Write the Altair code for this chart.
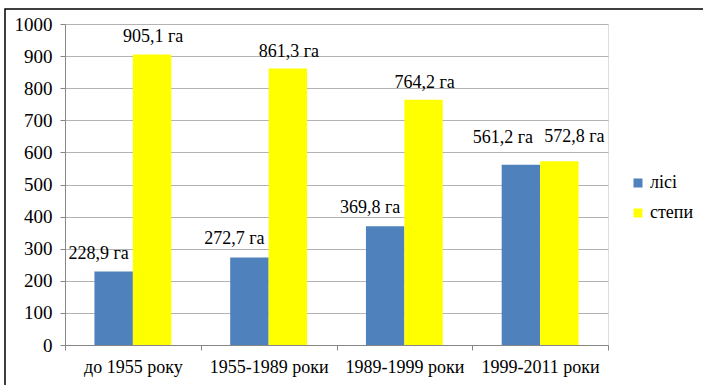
import altair as alt
import pandas as pd

periods = ["до 1955 року", "1955-1989 роки", "1989-1999 роки", "1999-2011 роки"]
series = ["лісі", "степи"]
lisy = [228.9, 272.7, 369.8, 561.2]
stepy = [905.1, 861.3, 764.2, 572.8]
y_ticks = [0, 100, 200, 300, 400, 500, 600, 700, 800, 900, 1000]

rows = []
for i, p in enumerate(periods):
    for s, vals in zip(series, [lisy, stepy]):
        v = vals[i]
        rows.append({"period": p, "series": s, "value": v, "idx": i,
                     "label": f"{v:.1f}".replace(".", ",") + " га"})
df = pd.DataFrame(rows)

FONT = "'Times New Roman', 'Liberation Serif', serif"

x_enc = alt.X("period:N", sort=periods, title=None,
              scale=alt.Scale(paddingInner=0, paddingOuter=0),
              axis=alt.Axis(labelAngle=0, labelFontSize=18, labelFont=FONT, labelColor="black",
                            domainColor="#868686", tickColor="#868686", tickSize=5,
                            tickBand="extent", labelPadding=8, grid=False))
xo_enc = alt.XOffset("series:N", sort=series,
                     scale=alt.Scale(paddingInner=0, paddingOuter=0.766))
y_enc = alt.Y("value:Q", title=None,
              scale=alt.Scale(domain=[0, 1000], nice=False),
              axis=alt.Axis(values=y_ticks, format="d", labelFontSize=19, labelFont=FONT,
                            labelColor="black", labelOverlap=False,
                            domainColor="#868686", tickColor="#868686", tickSize=5,
                            labelPadding=8, grid=True, gridColor="#B3B3B3", gridWidth=1))

base = alt.Chart(df)

bars = base.mark_bar().encode(
    x=x_enc, xOffset=xo_enc, y=y_enc,
    color=alt.Color("series:N", sort=series,
                    scale=alt.Scale(domain=series, range=["#4F81BD", "#FFFF00"]),
                    legend=alt.Legend(title=None, orient="none", legendX=564, legendY=150,
                                      symbolType="square", symbolSize=81, symbolStrokeWidth=0,
                                      labelFontSize=18, labelFont=FONT, labelColor="black",
                                      rowPadding=12, labelOffset=3, padding=0)),
)

def labels(filter_expr, dx, dy):
    return base.transform_filter(filter_expr).mark_text(
        font=FONT, fontSize=18, color="black", baseline="middle", align="center", dx=dx, dy=dy
    ).encode(x=x_enc, xOffset=xo_enc, y=y_enc, text="label:N")

lab_a = labels("datum.series == 'лісі' && datum.idx < 3", -15, -18)
lab_b = labels("datum.series == 'степи' && datum.idx < 3", 1, -17)
lab_c = labels("datum.series == 'лісі' && datum.idx == 3", -18, -27)
lab_d = labels("datum.series == 'степи' && datum.idx == 3", 15, -24)

border = alt.Chart(pd.DataFrame({"a": [0]})).mark_rect(
    filled=False, stroke="black", strokeWidth=1.5
).encode(x=alt.value(-60), x2=alt.value(700), y=alt.value(-15), y2=alt.value(400))

chart = alt.layer(bars, lab_a, lab_b, lab_c, lab_d, border).properties(
    width=543, height=321,
    autosize=alt.AutoSizeParams(type="none"),
    padding={"left": 65, "top": 24, "right": 95, "bottom": 40},
    background="white",
).configure_view(stroke=None).configure(font=FONT)

chart.save("out.html", embed_options={"renderer": "svg", "actions": False})
